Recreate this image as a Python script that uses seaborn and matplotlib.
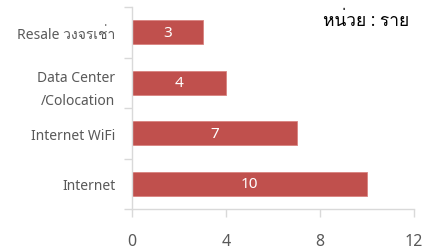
import matplotlib
matplotlib.use('Agg')
import matplotlib.pyplot as plt
from matplotlib import font_manager
from matplotlib.ft2font import FT2Font
import seaborn as sns
import pandas as pd

# ข้อมูล
categories = ['Resale วงจรเช่า', 'Data Center\n/Colocation', 'Internet WiFi', 'Internet']
values = [3, 4, 7, 10]
x_ticks = [0, 4, 8, 12]
unit_text = 'หน่วย : ราย'

BAR_COLOR = '#C0504D'
TEXT_GRAY = '#595959'
AXIS_GRAY = '#D9D9D9'


def find_thai_fonts():
    """หาฟอนต์ที่มีอักษรไทย"""
    names = []
    for f in font_manager.fontManager.ttflist:
        try:
            cmap = FT2Font(f.fname).get_charmap()
        except Exception:
            continue
        if 0x0E27 in cmap and f.name not in names:
            names.append(f.name)
    return names


sns.set_style('white')
thai = find_thai_fonts()
plt.rcParams['font.family'] = ['Noto Sans'] + thai + ['DejaVu Sans']

df = pd.DataFrame({'category': categories, 'value': values})

fig = plt.figure(figsize=(4.29, 2.51), dpi=100)
ax = fig.add_axes([0.308, 0.163, 0.657, 0.805])

sns.barplot(data=df, x='value', y='category', orient='h', color=BAR_COLOR,
            saturation=1, width=0.48, edgecolor='#D9827F', linewidth=0.6, ax=ax)

for i, v in enumerate(values):
    ax.text(v / 2, i, str(v), ha='center', va='center', color='white', fontsize=11)

ax.set_xlim(0, 12)
ax.set_ylim(3.5, -0.5)
ax.set_xticks(x_ticks)
ax.set_xlabel('')
ax.set_ylabel('')

ax.set_yticks([-0.5, 0.5, 1.5, 2.5, 3.5], minor=True)
ax.tick_params(axis='y', which='major', length=0, pad=12, labelsize=10, labelcolor=TEXT_GRAY)
ax.tick_params(axis='y', which='minor', length=6, color=AXIS_GRAY, width=1, direction='out', left=True)
ax.tick_params(axis='x', length=6, color=AXIS_GRAY, width=1, direction='out', bottom=True,
               labelsize=11.5, labelcolor=TEXT_GRAY, pad=11)
for lbl in ax.get_yticklabels():
    lbl.set_linespacing(1.7)

for s in ['top', 'right']:
    ax.spines[s].set_visible(False)
for s in ['left', 'bottom']:
    ax.spines[s].set_color(AXIS_GRAY)
    ax.spines[s].set_linewidth(1)

fig.text(0.955, 0.915, unit_text, ha='right', va='center', fontsize=12.5, color='black')

fig.savefig('out.png', dpi=100)
